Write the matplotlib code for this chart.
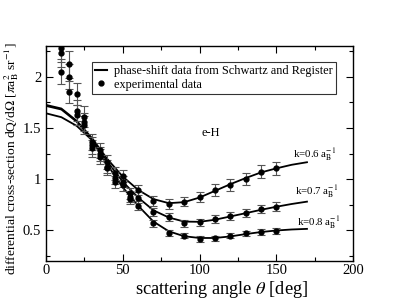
import matplotlib
matplotlib.use("Agg")
import matplotlib.pyplot as plt
from matplotlib.ticker import MultipleLocator, FuncFormatter
from matplotlib.lines import Line2D

plt.rcParams['font.family'] = ['Liberation Serif', 'DejaVu Serif']
plt.rcParams['mathtext.fontset'] = 'stix'

# theory curves (phase-shift data)
theta_th = [0, 10, 20, 30, 40, 50, 60, 70, 80, 90, 100, 110, 120, 130, 140, 150, 160, 170]
th_k06 = [1.725, 1.690, 1.570, 1.400, 1.195, 1.025, 0.895, 0.805, 0.765, 0.775, 0.820,
          0.885, 0.950, 1.010, 1.065, 1.105, 1.140, 1.165]
th_k07 = [1.715, 1.680, 1.560, 1.390, 1.170, 0.975, 0.820, 0.695, 0.625, 0.585, 0.583,
          0.603, 0.635, 0.667, 0.700, 0.730, 0.757, 0.780]
th_k08 = [1.643, 1.605, 1.520, 1.380, 1.140, 0.920, 0.740, 0.585, 0.490, 0.442, 0.425,
          0.425, 0.440, 0.463, 0.483, 0.498, 0.508, 0.514]

# experimental data
theta_exp = [10, 15, 20, 25, 30, 35, 40, 45, 50, 55, 60, 70, 80, 90, 100, 110, 120, 130, 140, 150]
ex_k06 = [2.28, 2.12, 1.83, 1.61, 1.36, 1.28, 1.17, 1.056, 1.033, 0.86, 0.89, 0.786, 0.757,
          0.778, 0.828, 0.894, 0.942, 1.00, 1.072, 1.105]
ex_k07 = [2.23, 2.00, 1.67, 1.56, 1.33, 1.245, 1.12, 1.008, 0.975, 0.83, 0.82, 0.676, 0.633,
          0.568, 0.578, 0.610, 0.640, 0.666, 0.705, 0.730]
ex_k08 = [2.05, 1.85, 1.626, 1.53, 1.30, 1.22, 1.105, 0.975, 0.94, 0.805, 0.74, 0.568, 0.470,
          0.447, 0.415, 0.420, 0.447, 0.470, 0.486, 0.496]
er_k06 = [0.14, 0.13, 0.11, 0.10, 0.08, 0.07, 0.07, 0.06, 0.06, 0.05, 0.05, 0.045, 0.045,
          0.045, 0.05, 0.055, 0.055, 0.06, 0.065, 0.065]
er_k07 = [0.13, 0.12, 0.10, 0.09, 0.08, 0.07, 0.065, 0.06, 0.055, 0.05, 0.05, 0.04, 0.04,
          0.035, 0.035, 0.035, 0.04, 0.04, 0.04, 0.045]
er_k08 = [0.12, 0.11, 0.10, 0.09, 0.08, 0.07, 0.065, 0.06, 0.055, 0.05, 0.045, 0.035, 0.03,
          0.027, 0.025, 0.025, 0.027, 0.028, 0.03, 0.03]

labels_k = [r'k=0.6 a$_\mathrm{B}^{-1}$', r'k=0.7 a$_\mathrm{B}^{-1}$', r'k=0.8 a$_\mathrm{B}^{-1}$']

fig = plt.figure(figsize=(3.98, 3.07), dpi=100)
ax = fig.add_axes([0.1156, 0.1498, 0.7714, 0.7002])

for th in (th_k06, th_k07, th_k08):
    ax.plot(theta_th, th, color='black', lw=1.3, zorder=3)

for ex, er in ((ex_k06, er_k06), (ex_k07, er_k07), (ex_k08, er_k08)):
    ax.errorbar(theta_exp, ex, yerr=er, fmt='o', color='black', ms=3.5,
                ecolor='#555555', elinewidth=0.8, capsize=2.8, capthick=0.8, zorder=4)

ax.set_xlim(0, 200)
ax.set_ylim(0.2, 2.3)
ax.xaxis.set_major_locator(MultipleLocator(50))
ax.xaxis.set_minor_locator(MultipleLocator(25))
ax.yaxis.set_major_locator(MultipleLocator(0.5))
ax.yaxis.set_minor_locator(MultipleLocator(0.25))
ax.yaxis.set_major_formatter(FuncFormatter(lambda v, p: f'{v:g}'))
ax.tick_params(which='both', direction='in', top=True, right=True, labelsize=10.5, width=0.8)
ax.tick_params(which='major', length=5)
ax.tick_params(which='minor', length=3)
ax.tick_params(axis='x', pad=2)
for s in ax.spines.values():
    s.set_linewidth(1.0)

ax.set_xlabel(r'scattering angle $\theta$ [deg]', fontsize=13.2)
ax.xaxis.set_label_coords(0.573, -0.085)
ax.set_ylabel(r'differential cross-section dQ/d$\Omega$ [$\pi$a$_\mathrm{B}^2$ sr$^{-1}$]',
              fontsize=9.7)
ax.yaxis.set_label_coords(-0.08, 0.475)

ax.text(107, 1.45, 'e-H', fontsize=9, ha='center', va='center')
ax.text(161, 1.24, labels_k[0], fontsize=7.8, ha='left', va='center')
ax.text(162, 0.88, labels_k[1], fontsize=7.8, ha='left', va='center')
ax.text(163.5, 0.58, labels_k[2], fontsize=7.8, ha='left', va='center')

handles = [Line2D([], [], color='black', lw=1.5),
           Line2D([], [], color='black', marker='o', ls='none', ms=3.5)]
leg = ax.legend(handles, ['phase-shift data from Schwartz and Register', 'experimental data'],
                loc='upper left', bbox_to_anchor=(0.149, 0.924), fontsize=8.8,
                frameon=True, fancybox=False, edgecolor='black', handlelength=1.0,
                handletextpad=0.6, borderpad=0.25, labelspacing=0.1, borderaxespad=0)
leg.get_frame().set_linewidth(0.8)

fig.savefig('out.png', dpi=100)
